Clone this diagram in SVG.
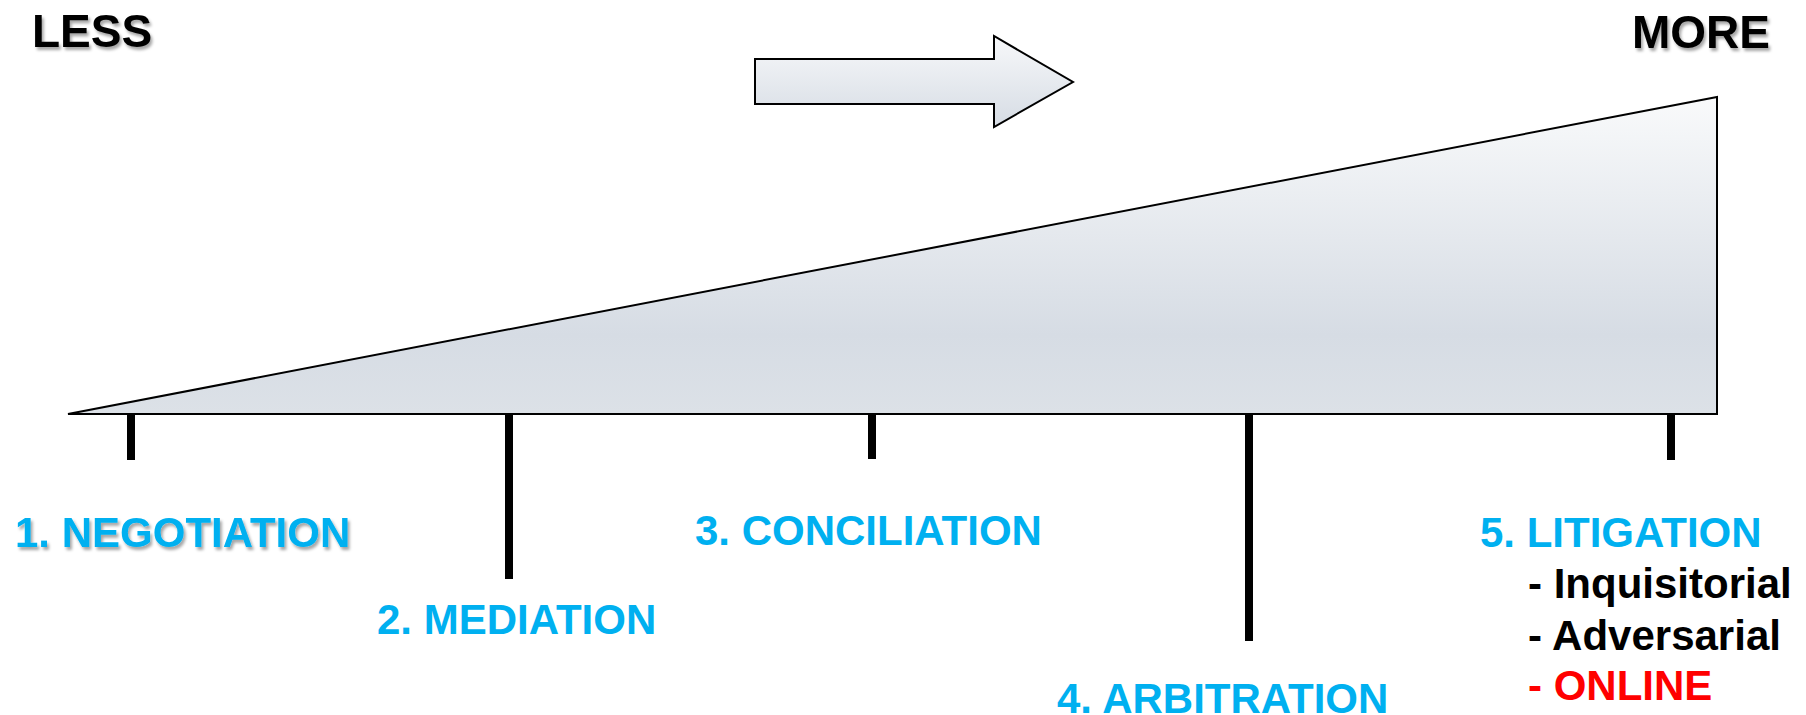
<svg xmlns="http://www.w3.org/2000/svg" width="1806" height="715" viewBox="0 0 1806 715">
<defs>
<linearGradient id="gTri" x1="0" y1="97" x2="0" y2="414" gradientUnits="userSpaceOnUse">
<stop offset="0" stop-color="#F9FAFB"/>
<stop offset="0.75" stop-color="#D6DCE4"/>
<stop offset="1" stop-color="#DCE1E7"/>
</linearGradient>
<linearGradient id="gArr" x1="0" y1="0" x2="0" y2="1">
<stop offset="0" stop-color="#F7F8FA"/>
<stop offset="1" stop-color="#D6DCE4"/>
</linearGradient>
<filter id="shadow" x="-10%" y="-20%" width="130%" height="160%">
<feDropShadow dx="2" dy="3" stdDeviation="1.5" flood-color="#000" flood-opacity="0.35"/>
</filter>
</defs>
<style>
.lbl{font-family:"Liberation Sans",Arial,sans-serif;font-weight:bold;font-size:42px;}
.blue{fill:#00B0F0;}
.blk{fill:#000;}
.red{fill:#FF0000;}
.big{font-family:"Liberation Sans",Arial,sans-serif;font-weight:bold;font-size:46px;fill:#000;}
.tick{stroke:#000;stroke-width:8;fill:none;}
.shape{stroke:#000;stroke-width:2;}
</style>
<rect width="1806" height="715" fill="#fff"/>
<g id="wedge"><polygon class="shape" points="68,414 1717,97 1717,414" fill="url(#gTri)"/></g>
<g id="arrow"><polygon class="shape" points="755,59 994,59 994,36 1073,82 994,127 994,104 755,104" fill="url(#gArr)"/></g>
<g id="less"><text class="big" x="32" y="47" filter="url(#shadow)">LESS</text></g>
<g id="more"><text class="big" x="1632" y="48" filter="url(#shadow)">MORE</text></g>
<g id="connectors">
<line class="tick" x1="131" y1="414" x2="131" y2="460"/>
<line class="tick" x1="509" y1="414" x2="509" y2="579"/>
<line class="tick" x1="872" y1="414" x2="872" y2="459"/>
<line class="tick" x1="1249" y1="414" x2="1249" y2="641"/>
<line class="tick" x1="1671" y1="414" x2="1671" y2="460"/>
</g>
<g id="negotiation"><text class="lbl blue" x="15" y="547" filter="url(#shadow)">1. NEGOTIATION</text></g>
<g id="mediation"><text class="lbl blue" x="377" y="634">2. MEDIATION</text></g>
<g id="conciliation"><text class="lbl blue" x="695" y="545">3. CONCILIATION</text></g>
<g id="arbitration"><text class="lbl blue" x="1057" y="713">4. ARBITRATION</text></g>
<g id="litigation">
<text class="lbl blue" x="1480" y="547">5. LITIGATION</text>
<text class="lbl blk" x="1528" y="598">- Inquisitorial</text>
<text class="lbl blk" x="1528" y="650">- Adversarial</text>
<text class="lbl red" x="1528" y="700">- ONLINE</text>
</g>
</svg>
